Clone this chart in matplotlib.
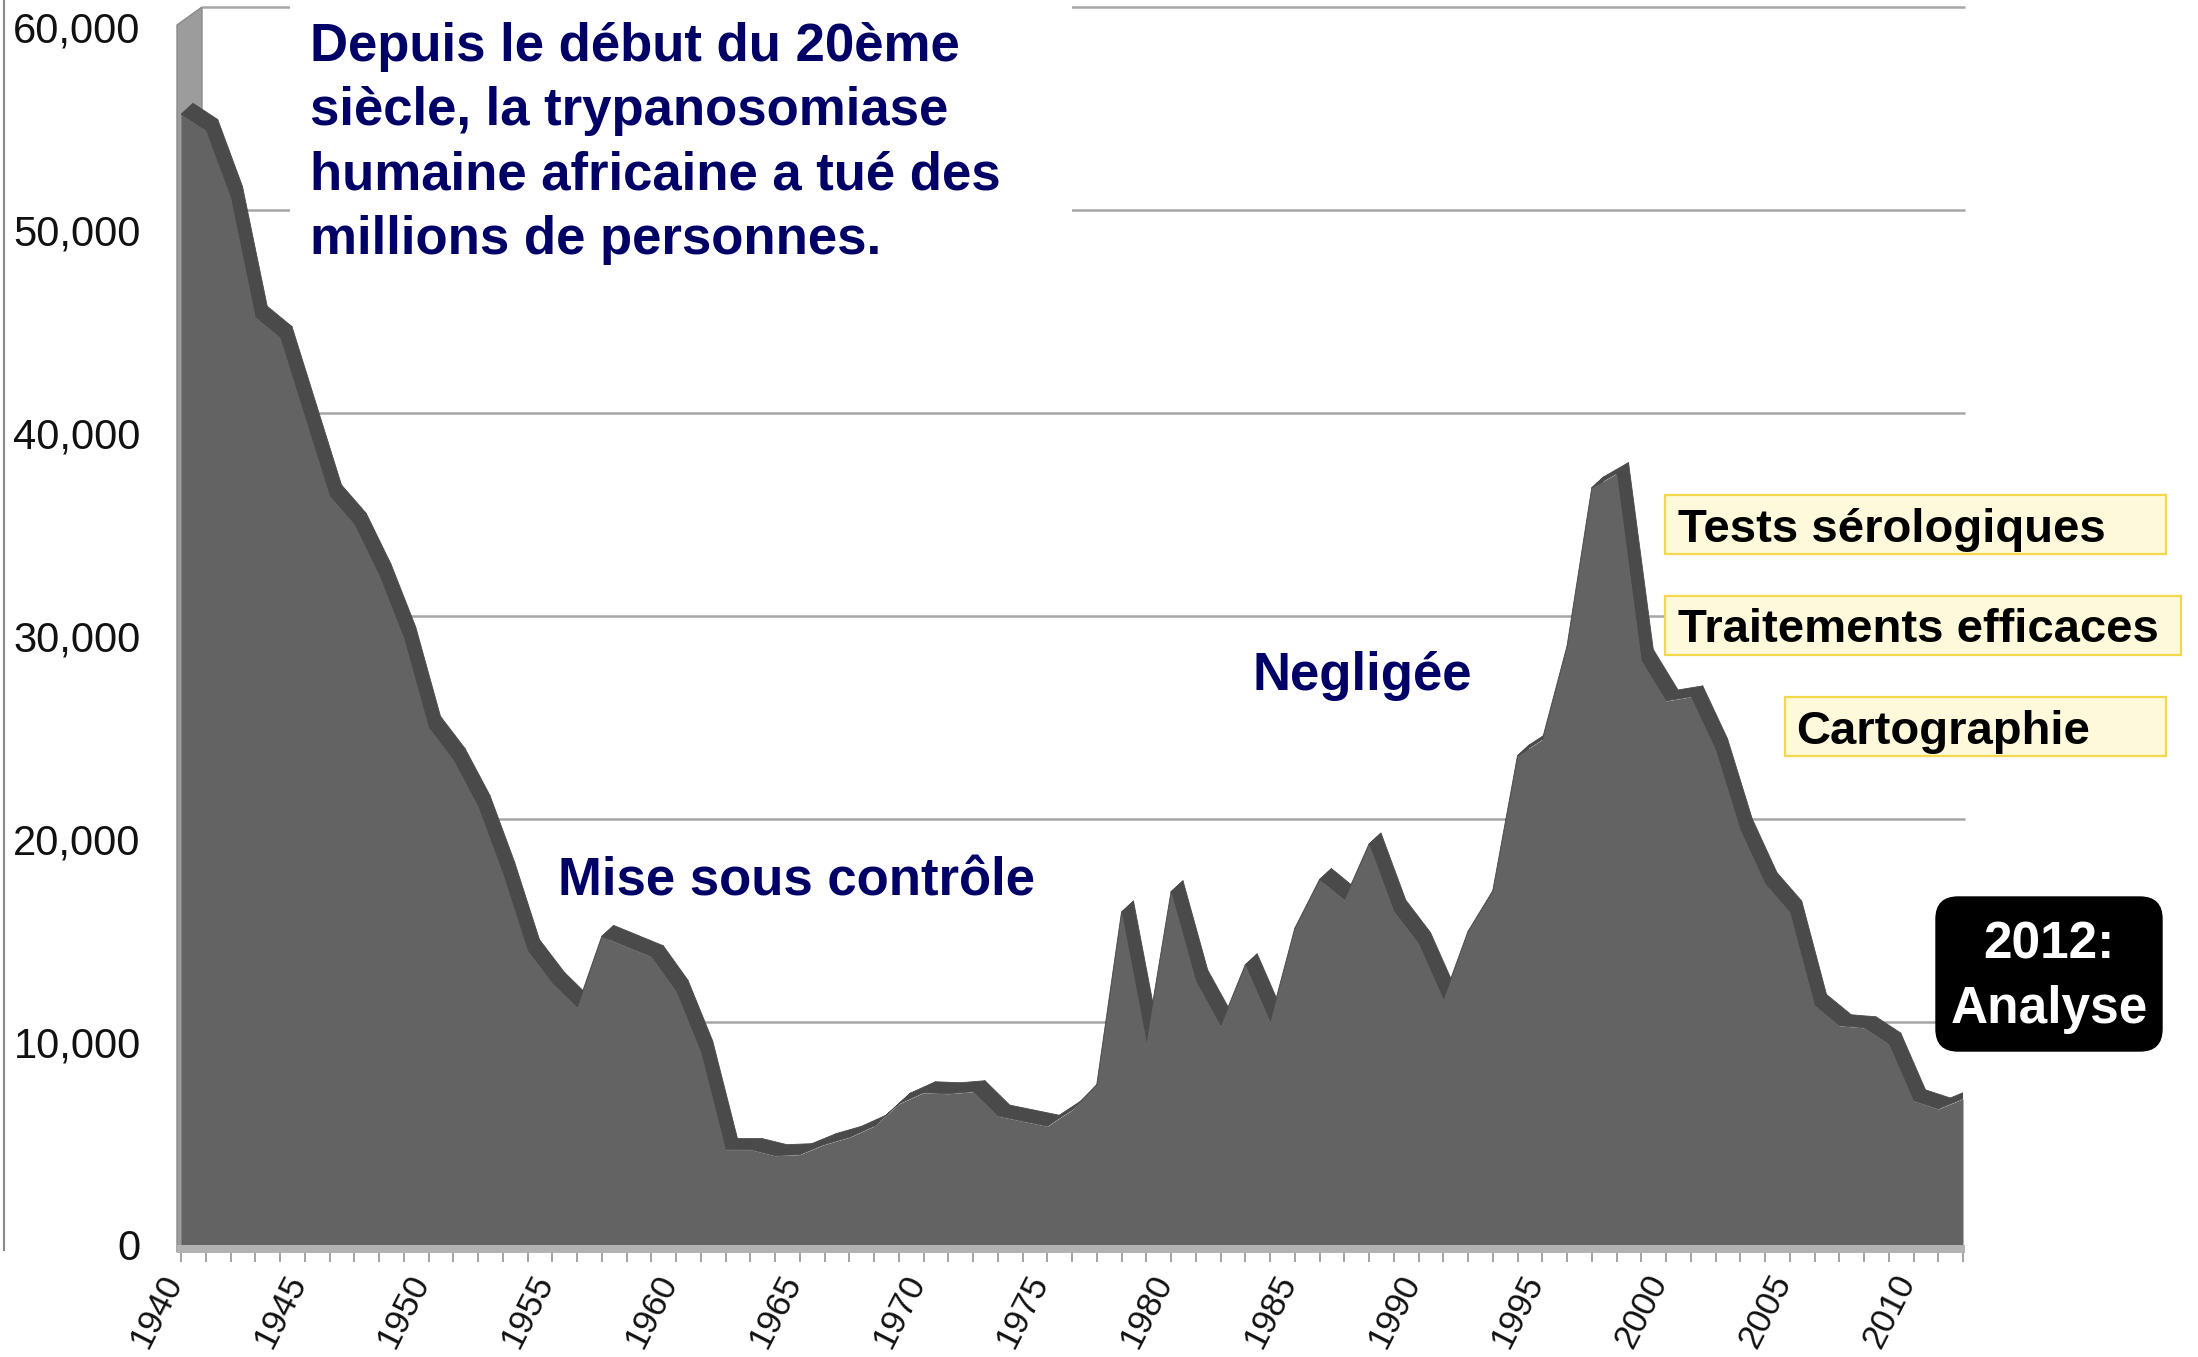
import numpy as np
import matplotlib
matplotlib.use("Agg")
import matplotlib.pyplot as plt
from matplotlib.patches import Polygon, Rectangle, FancyBboxPatch
from matplotlib.collections import PolyCollection
from matplotlib.transforms import offset_copy, ScaledTranslation

plt.rcParams['font.family'] = ['Liberation Sans', 'DejaVu Sans']

# reported cases per year
years = np.arange(1940, 2013)
cases = np.array([
    55700, 54900, 51600, 45700, 44700, 40800, 36900, 35500, 33000, 29900,   # 1940s
    25500, 23900, 21600, 18300, 14500, 12900, 11700, 15200, 14700, 14200,   # 1950s
    12500, 9500, 4700, 4700, 4400, 4450, 4950, 5300, 5850, 6950,            # 1960s
    7500, 7450, 7550, 6350, 6100, 5850, 6650, 7900, 16400, 10000,           # 1970s
    17400, 13000, 10800, 13800, 11000, 15600, 18000, 17000, 19750, 16450,   # 1980s
    14850, 12100, 15450, 17450, 24100, 24900, 29500, 37300, 38000, 28800,   # 1990s
    26800, 27000, 24400, 20450, 17800, 16400, 11800, 10800, 10700, 9900,    # 2000s
    7100, 6700, 7200,                                                       # 2010-2012
])

yticks = [0, 10000, 20000, 30000, 40000, 50000, 60000]
ytick_labels = ["0", "10,000", "20,000", "30,000", "40,000", "50,000", "60,000"]
xtick_labels = [str(y) if y % 5 == 0 and y <= 2010 else "" for y in years]

title_text = ("Depuis le début du 20ème\nsiècle, la trypanosomiase\n"
              "humaine africaine a tué des\nmillions de personnes.")
phase_labels = ["Mise sous contrôle", "Negligée"]
tool_labels = ["Tests sérologiques", "Traitements efficaces", "Cartographie"]
analysis_label = "2012:\nAnalyse"

navy = "#000066"
front_col = "#636363"
top_col = "#4a4a4a"

W, H = 2198, 1357
fig = plt.figure(figsize=(W / 100, H / 100), dpi=100)

# front face of the 3d area, in pixels
x0, x1 = 181, 1963   # 1940 .. 2012
y0, y1 = 1245, 27    # 0 .. 60,000
ax = fig.add_axes([x0 / W, 1 - y0 / H, (x1 - x0) / W, (y0 - y1) / H])
ax.set_xlim(1940, 2012)
ax.set_ylim(0, 60000)
ax.patch.set_visible(False)
for s in ax.spines.values():
    s.set_visible(False)

px_year = (x1 - x0) / 72
px_case = (y0 - y1) / 60000


def inch(x, y):
    # pixel from top-left -> figure inches
    return x / 100, (H - y) / 100


# back wall gridlines (shifted back in depth)
grid_tr = offset_copy(ax.transData, fig=fig, x=0, y=20, units='dots')
ax.hlines(yticks[1:], 1940 + 21 / px_year, 2012 + 2 / px_year, colors="#a6a6a6",
          lw=1.8, transform=grid_tr, clip_on=False, zorder=1)

# left wall and floor
wall = Polygon([inch(177, 1252), inch(177, 25), inch(202, 7), inch(202, 1252)],
               closed=True, fc="#9c9c9c", ec="#8a8a8a", lw=1,
               transform=fig.dpi_scale_trans, clip_on=False, zorder=1.2)
ax.add_patch(wall)
floor = Rectangle(inch(177, 1253), (1965 - 177) / 100, 8 / 100, fc="#b2b2b2", ec="none",
                  transform=fig.dpi_scale_trans, clip_on=False, zorder=6)
ax.add_patch(floor)

# white box behind the title
ax.add_patch(Rectangle(inch(290, 300), (1072 - 290) / 100, 3.0, fc="white", ec="none",
                       transform=fig.dpi_scale_trans, clip_on=False, zorder=1.5))

# top face of the ribbon
dx = 12 / px_year
dy = 11 / px_case
quads = []
for i in range(len(years) - 1):
    quads.append([(years[i], cases[i]), (years[i + 1], cases[i + 1]),
                  (years[i + 1] + dx, cases[i + 1] + dy), (years[i] + dx, cases[i] + dy)])
ax.add_collection(PolyCollection(quads, facecolors=top_col, edgecolors=top_col,
                                 linewidths=0.6, zorder=3))

# front face
ax.fill_between(years, 0, cases, color=front_col, lw=0, zorder=4)

# axes ticks and labels
ax.set_yticks(yticks)
ax.set_yticklabels(ytick_labels, fontsize=30, color="#111111")
ax.tick_params(axis='y', length=0, pad=29)
ax.set_xticks(years)
ax.set_xticklabels(xtick_labels, fontsize=25, rotation=63, ha='right', va='center',
                   rotation_mode='anchor', color="#111111")
ax.tick_params(axis='x', length=12.5, width=1.1, color="#8c8c8c", pad=10.5)
shift = ScaledTranslation(-0.07, 0, fig.dpi_scale_trans)
for lbl in ax.get_xticklabels():
    lbl.set_transform(lbl.get_transform() + shift)

# left border line of the slide
fig.add_artist(plt.Line2D([0.002, 0.002], [1 - 1250 / H, 1], color="#8a8a8a", lw=1.5))

# annotations
fig.text(*inch(310, 22), title_text, transform=fig.dpi_scale_trans, ha='left', va='top',
         fontsize=38, fontweight='bold', color=navy, linespacing=1.37)
fig.text(*inch(558, 896), phase_labels[0], transform=fig.dpi_scale_trans, ha='left',
         va='baseline', fontsize=38, fontweight='bold', color=navy)
fig.text(*inch(1252, 690), phase_labels[1], transform=fig.dpi_scale_trans, ha='left',
         va='baseline', fontsize=38, fontweight='bold', color=navy)

boxes = [(1665, 495, 2166, 554, 1678), (1665, 596, 2181, 655, 1678), (1785, 697, 2166, 756, 1796)]
for label, (bx0, by0, bx1, by1, tx) in zip(tool_labels, boxes):
    fig.add_artist(Rectangle(inch(bx0, by1), (bx1 - bx0) / 100, (by1 - by0) / 100,
                             fc="#fff9dc", ec="#f4d84c", lw=1.6, transform=fig.dpi_scale_trans))
    fig.text(*inch(tx, (by0 + by1) / 2 + 17), label, transform=fig.dpi_scale_trans,
             ha='left', va='baseline', fontsize=34, fontweight='bold', color="black")

fig.add_artist(FancyBboxPatch(inch(1936, 1051), 2.26, 1.54,
                              boxstyle="round,pad=0,rounding_size=0.22",
                              fc="black", ec="black", transform=fig.dpi_scale_trans))
fig.text(*inch(2049, 977), analysis_label, transform=fig.dpi_scale_trans, ha='center',
         va='center', fontsize=37, fontweight='bold', color="white", linespacing=1.4)

fig.savefig("out.png", dpi=100)
